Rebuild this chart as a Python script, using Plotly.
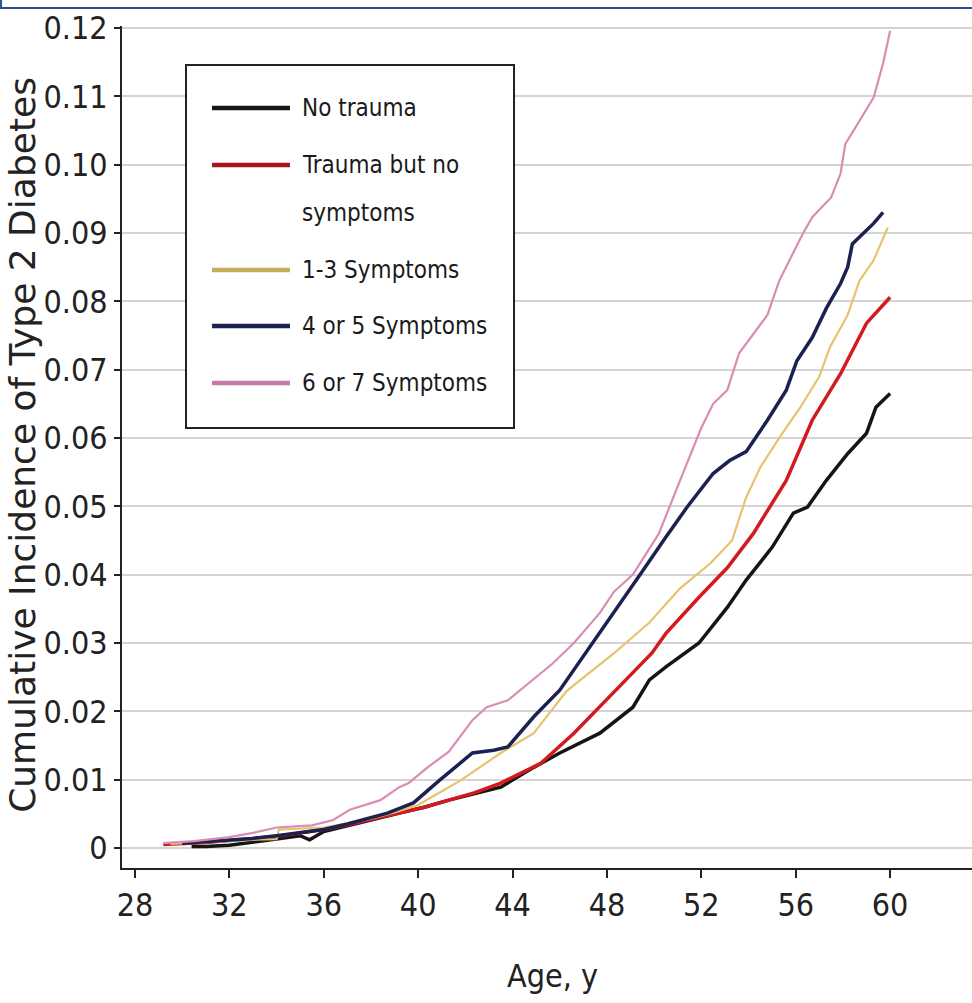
import plotly.graph_objects as go

# ---- data (age in years, cumulative incidence) ----
series_names = ["No trauma", "Trauma but no symptoms", "1-3 Symptoms",
                "4 or 5 Symptoms", "6 or 7 Symptoms"]
legend_lines = [["No trauma"], ["Trauma but no", "symptoms"], ["1-3 Symptoms"],
                ["4 or 5 Symptoms"], ["6 or 7 Symptoms"]]

age_none = [30.4, 31.0, 32.0, 33.0, 34.0, 35.0, 35.4, 36.0, 37.0, 38.0, 39.2, 40.3, 41.3, 42.4,
            43.5, 44.9, 46.0, 47.7, 49.1, 49.8, 50.5, 51.9, 53.1, 53.9, 55.0, 55.9, 56.5,
            57.3, 58.2, 59.0, 59.4, 60.0]
inc_none = [0.0002, 0.0002, 0.0004, 0.0008, 0.0013, 0.0018, 0.0012, 0.0024, 0.0033, 0.0041, 0.0051,
            0.0060, 0.0070, 0.0079, 0.0089, 0.0118, 0.0139, 0.0168, 0.0206, 0.0246, 0.0265,
            0.0300, 0.0352, 0.0392, 0.0440, 0.0490, 0.0499, 0.0538, 0.0577, 0.0607, 0.0645, 0.0665]

age_trauma = [29.2, 30.0, 31.0, 32.0, 33.0, 34.0, 35.0, 36.0, 37.0, 38.0, 39.2, 40.3, 41.3, 42.4,
              43.5, 45.2, 46.6, 48.3, 48.8, 49.9, 50.5, 51.9, 53.1, 54.2, 55.6, 56.7, 57.9,
              59.0, 60.0]
inc_trauma = [0.0005, 0.0006, 0.0008, 0.0011, 0.0014, 0.0017, 0.0022, 0.0027, 0.0034, 0.0042, 0.0051,
              0.0060, 0.0070, 0.0081, 0.0095, 0.0124, 0.0168, 0.0227, 0.0246, 0.0285, 0.0314,
              0.0367, 0.0410, 0.0460, 0.0538, 0.0626, 0.0694, 0.0768, 0.0806]

age_s13 = [29.5, 31.0, 32.0, 33.0, 34.0, 34.1, 35.0, 36.0, 37.0, 38.0, 39.0, 40.0, 40.6, 41.8,
           43.5, 44.9, 46.3, 48.3, 49.8, 51.1, 52.4, 53.3, 53.9, 54.5, 55.3, 56.2, 57.0,
           57.45, 58.2, 58.7, 59.3, 59.9]
inc_s13 = [0.0006, 0.0008, 0.0010, 0.0012, 0.0013, 0.0027, 0.0028, 0.0030, 0.0036, 0.0043, 0.0052,
           0.0063, 0.0075, 0.0099, 0.0139, 0.0168, 0.0230, 0.0285, 0.0330, 0.0380, 0.0417,
           0.0450, 0.0513, 0.0557, 0.0600, 0.0645, 0.0690, 0.0733, 0.0780, 0.0830, 0.0860, 0.0908]

age_s45 = [30.0, 31.0, 32.0, 33.0, 34.0, 35.0, 36.0, 37.0, 38.0, 38.7, 39.8, 40.9, 42.3, 43.2,
           43.8, 44.9, 46.0, 47.4, 48.4, 49.4, 50.5, 51.4, 52.5, 53.2, 53.9, 54.8, 55.6,
           56.05, 56.7, 57.3, 57.9, 58.2, 58.4, 59.3, 59.7]
inc_s45 = [0.0007, 0.0009, 0.0011, 0.0014, 0.0018, 0.0022, 0.0027, 0.0035, 0.0044, 0.0051, 0.0066,
           0.0099, 0.0139, 0.0143, 0.0148, 0.0192, 0.0231, 0.0300, 0.0350, 0.0400, 0.0455,
           0.0499, 0.0548, 0.0567, 0.0580, 0.0626, 0.0670, 0.0713, 0.0747, 0.0790, 0.0826,
           0.0850, 0.0884, 0.0914, 0.0930]

age_s67 = [29.2, 30.5, 32.0, 33.0, 34.0, 35.5, 36.4, 37.1, 38.4, 39.2, 39.6, 40.4, 41.3, 42.3,
           42.9, 43.8, 45.7, 46.6, 47.7, 48.3, 49.1, 50.2, 51.1, 52.0, 52.5, 53.1, 53.6,
           54.8, 55.3, 55.75, 56.3, 56.7, 57.5, 57.9, 58.1, 59.3, 59.7, 60.0]
inc_s67 = [0.0007, 0.0010, 0.0016, 0.0022, 0.0030, 0.0033, 0.0041, 0.0056, 0.0070, 0.0089, 0.0095,
           0.0118, 0.0141, 0.0187, 0.0206, 0.0216, 0.0270, 0.0300, 0.0344, 0.0375, 0.0400,
           0.0460, 0.0538, 0.0615, 0.0650, 0.0670, 0.0724, 0.0780, 0.0830, 0.0860, 0.0899,
           0.0923, 0.0952, 0.0987, 0.1030, 0.1098, 0.1148, 0.1196]

x_tick_vals = [28, 32, 36, 40, 44, 48, 52, 56, 60]
y_tick_vals = [0, 0.01, 0.02, 0.03, 0.04, 0.05, 0.06, 0.07, 0.08, 0.09, 0.10, 0.11, 0.12]
y_tick_text = ["0", "0.01", "0.02", "0.03", "0.04", "0.05", "0.06", "0.07", "0.08",
               "0.09", "0.10", "0.11", "0.12"]

# ---- styling ----
line_colors = ["#151515", "#d21a1f", "#e6c46e", "#1b2150", "#d98cb4"]
legend_colors = ["#151515", "#a8141c", "#c4ae58", "#1b2150", "#c879a8"]
line_widths = [3.5, 3.5, 2.2, 3.5, 2.2]
COND = "DejaVu Sans Condensed, Roboto, sans-serif"

all_x = [age_none, age_trauma, age_s13, age_s45, age_s67]
all_y = [inc_none, inc_trauma, inc_s13, inc_s45, inc_s67]

fig = go.Figure()
for name, xs, ys, c, w in zip(series_names, all_x, all_y, line_colors, line_widths):
    fig.add_trace(go.Scatter(x=xs, y=ys, mode="lines", name=name,
                             line=dict(color=c, width=w), showlegend=False))

# plot area: x 122..972 px, y 26..868 px
fig.update_layout(
    width=972, height=1003,
    margin=dict(l=122, r=0, t=26, b=135),
    paper_bgcolor="white", plot_bgcolor="white",
    xaxis=dict(range=[27.45, 63.47], tickvals=x_tick_vals, showgrid=False, zeroline=False,
               showline=True, linecolor="#222", linewidth=2, ticks="outside", ticklen=8,
               tickwidth=2, tickcolor="#222",
               tickfont=dict(family=COND, size=32, color="#222")),
    yaxis=dict(range=[-0.00293, 0.12029], tickvals=y_tick_vals, ticktext=y_tick_text,
               showgrid=True, gridcolor="#d4d4d4", gridwidth=2, zeroline=False,
               showline=True, linecolor="#222", linewidth=2, ticks="outside", ticklen=6,
               tickwidth=2, tickcolor="#222",
               tickfont=dict(family=COND, size=32, color="#222")),
)

# axis titles
fig.add_annotation(text="Age, y", xref="paper", yref="paper", x=0.507, y=-0.128,
                   xanchor="center", yanchor="middle", showarrow=False,
                   font=dict(family=COND, size=32, color="#222"))
fig.add_annotation(text="Cumulative Incidence of Type 2 Diabetes", xref="paper", yref="paper",
                   x=-0.117, y=0.502, xanchor="center", yanchor="middle", textangle=-90,
                   showarrow=False, font=dict(family="DejaVu Sans", size=36, color="#222"))

# legend box drawn in paper coordinates
fig.add_shape(type="rect", xref="paper", yref="paper", x0=0.0753, x1=0.4612, y0=0.5226, y1=0.9537,
              line=dict(color="#222", width=2), fillcolor="white", layer="above")
row_y = [0.9026, 0.8349, 0.7102, 0.6437, 0.5760]
line_gap = 0.057  # vertical gap between wrapped legend text lines (paper units)
for lines, c, ly in zip(legend_lines, legend_colors, row_y):
    fig.add_shape(type="line", xref="paper", yref="paper", x0=0.1059, x1=0.1976, y0=ly, y1=ly,
                  line=dict(color=c, width=4.5), layer="above")
    for k, txt in enumerate(lines):
        fig.add_annotation(text=txt, xref="paper", yref="paper", x=0.2094, y=ly - k * line_gap,
                           xanchor="left", yanchor="middle", align="left", showarrow=False,
                           font=dict(family=COND, size=24, color="#1a1a1a"))

# blue frame edge at the top of the image
fig.add_shape(type="line", xref="paper", yref="paper", x0=-0.1435, x1=1.0, y0=1.0214, y1=1.0214,
              line=dict(color="#2d4d8c", width=2))
fig.add_shape(type="line", xref="paper", yref="paper", x0=-0.1423, x1=-0.1423, y0=1.0214, y1=1.031,
              line=dict(color="#2d4d8c", width=2))

fig.write_html("out.html", config={"displayModeBar": False},
               post_script="document.body.style.margin='0px';document.body.style.overflow='hidden';")
